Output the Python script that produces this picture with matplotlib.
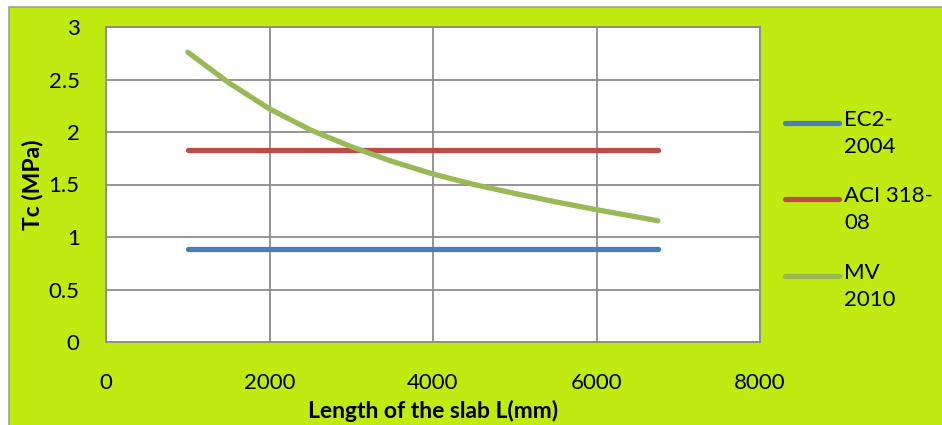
import matplotlib
matplotlib.use('Agg')
import matplotlib.pyplot as plt
from matplotlib.lines import Line2D
from matplotlib.patches import Rectangle

plt.rcParams['font.family'] = ['Lato', 'DejaVu Sans']

# shear resistance vs slab length
L_const = [1000, 6750]
ec2 = [0.89, 0.89]
aci = [1.83, 1.83]

L_mv = [1000, 1500, 2000, 2500, 3000, 3500, 4000, 4500, 5000, 5500, 6000, 6500, 6750]
mv = [2.76, 2.47, 2.22, 2.02, 1.86, 1.72, 1.60, 1.50, 1.415, 1.335, 1.26, 1.19, 1.155]

labels = ['EC2-\n2004', 'ACI 318-\n08', 'MV\n2010']
colors = ['#4a7ebb', '#be4b48', '#98b954']

W, H = 942, 425
fig = plt.figure(figsize=(W / 100, H / 100), dpi=100, facecolor='white')

# lime chart area with thin grey border
fig.add_artist(Rectangle((9 / W, -0.05), 1.0, (H - 7) / H + 0.05, transform=fig.transFigure,
                         facecolor='#bfeb12', edgecolor='#a0a0a0', linewidth=1.2, zorder=0))

ax = fig.add_axes([106 / W, 1 - 342 / H, (760 - 106) / W, (342 - 27) / H])
ax.set_facecolor('white')

lw = 3.8
ax.plot(L_const, ec2, color=colors[0], lw=lw, solid_capstyle='round', zorder=3)
ax.plot(L_const, aci, color=colors[1], lw=lw, solid_capstyle='round', zorder=3)
ax.plot(L_mv, mv, color=colors[2], lw=lw, solid_capstyle='round',
        solid_joinstyle='round', zorder=3)

ax.set_xlim(0, 8000)
ax.set_ylim(0, 3)
ax.set_xticks([0, 2000, 4000, 6000, 8000])
ax.set_yticks([0, 0.5, 1, 1.5, 2, 2.5, 3])
ax.set_yticklabels(['0', '0.5', '1', '1.5', '2', '2.5', '3'])
ax.grid(True, color='#8c8c8c', linewidth=1.3)
ax.set_axisbelow(True)
for s in ax.spines.values():
    s.set_color('#8c8c8c')
    s.set_linewidth(1.3)
ax.tick_params(axis='both', length=0, labelsize=16)
ax.tick_params(axis='x', pad=22)
ax.tick_params(axis='y', pad=19)

ax.set_xlabel('Length of the slab L(mm)', fontsize=16.5, fontweight='bold', labelpad=5)
ax.set_ylabel('Tc (MPa)', fontsize=16.5, fontweight='bold', labelpad=4)

# legend drawn by hand: handle beside the first text line
ys = [123, 199, 276]
for y, lab, c in zip(ys, labels, colors):
    fig.add_artist(Line2D([785 / W, 839 / W], [1 - y / H, 1 - y / H], transform=fig.transFigure,
                          color=c, lw=lw, solid_capstyle='round'))
    fig.text(844 / W, 1 - (y - 13) / H, lab, fontsize=16, va='top', ha='left',
             linespacing=1.45)

fig.savefig('out.png', dpi=100, facecolor='white')
